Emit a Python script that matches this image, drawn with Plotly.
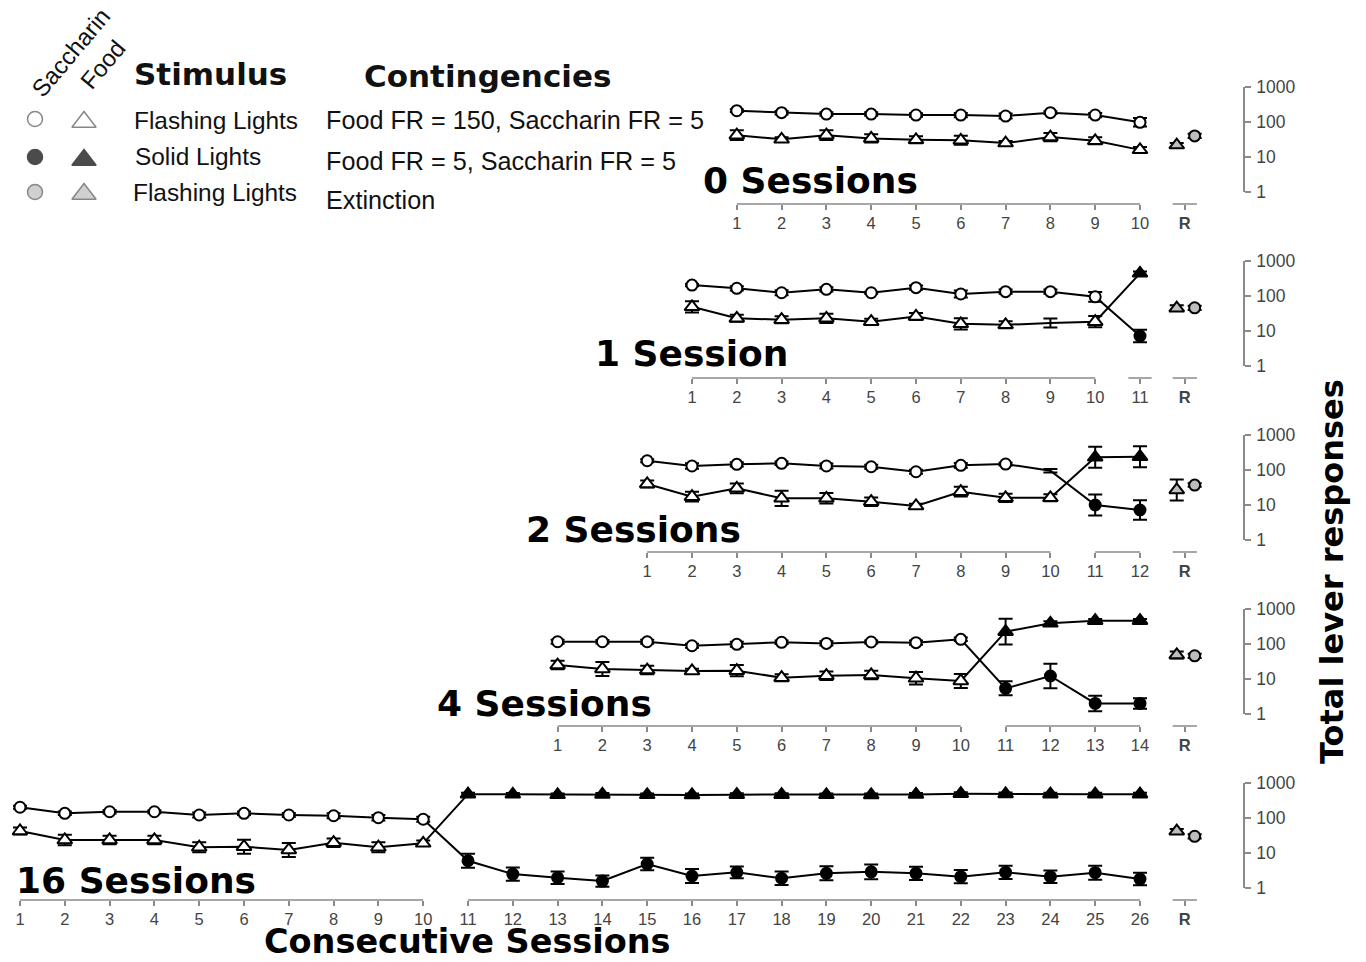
import plotly.graph_objects as go

W, H = 1366, 962

# ---------------------------------------------------------------- data ----
panel_titles = ["0 Sessions", "1 Session", "2 Sessions", "4 Sessions", "16 Sessions"]

# Mean total lever responses per session (sessions 1..n).
# Sessions 1-10: flashing lights (open symbols); later sessions: solid lights (filled).
sac_0 = [210, 185, 168, 168, 158, 158, 148, 185, 158, 98]
food_0 = [42, 32, 42, 34, 31, 30, 25, 37, 29, 16]
sac_1 = [205, 166, 124, 155, 124, 173, 114, 133, 133, 95, 7.2]
food_1 = [49, 23, 21, 23, 18.5, 26, 16, 15, 17, 18.5, 445]
sac_2 = [184, 130, 145, 155, 130, 124, 89, 136, 148, 95, 10, 7.2]
food_2 = [40, 17.3, 30, 15.5, 15.5, 12.4, 9.4, 24, 16, 16, 230, 240]
sac_4 = [116, 116, 116, 89, 98, 112, 104, 114, 109, 136, 5.4, 12.2, 2.0, 2.0]
food_4 = [25, 19.4, 18, 17, 17.3, 10.9, 12.4, 13, 10.5, 8.8, 225, 390, 465, 465]
sac_16 = [203, 136, 151, 151, 122, 136, 122, 116, 102, 92,
          6.0, 2.5, 1.97, 1.58, 4.85, 2.2, 2.8, 1.9, 2.63, 2.9, 2.63, 2.1, 2.8, 2.1, 2.74, 1.8]
food_16 = [42.5, 23.5, 23.5, 23.5, 14.6, 15.2, 12.2, 19.7, 14.6, 18.9,
           480, 475, 460, 470, 460, 455, 465, 465, 460, 455, 470, 495, 485, 480, 480, 480]

# Standard errors, in log10 units
sac_0_se = [0.04, 0.05, 0.05, 0.05, 0.05, 0.06, 0.07, 0.04, 0.06, 0.12]
food_0_se = [0.14, 0.06, 0.14, 0.12, 0.10, 0.13, 0.06, 0.12, 0.10, 0.08]
sac_1_se = [0.03, 0.06, 0.07, 0.06, 0.03, 0.06, 0.10, 0.06, 0.06, 0.14, 0.18]
food_1_se = [0.16, 0.10, 0.10, 0.13, 0.08, 0.10, 0.16, 0.10, 0.13, 0.16, 0.05]
sac_2_se = [0.04, 0.08, 0.06, 0.05, 0.07, 0.06, 0.06, 0.07, 0.04, 0.05, 0.30, 0.28]
food_2_se = [0.10, 0.14, 0.14, 0.22, 0.15, 0.12, 0.06, 0.14, 0.12, 0.10, 0.30, 0.30]
sac_4_se = [0.06, 0.05, 0.06, 0.06, 0.07, 0.05, 0.06, 0.04, 0.06, 0.05, 0.20, 0.35, 0.22, 0.15]
food_4_se = [0.12, 0.20, 0.12, 0.06, 0.16, 0.10, 0.12, 0.12, 0.18, 0.20, 0.37, 0.06, 0.05, 0.05]
sac_16_se = [0.04, 0.05, 0.05, 0.04, 0.07, 0.05, 0.06, 0.07, 0.08, 0.07,
             0.20, 0.19, 0.18, 0.16, 0.18, 0.20, 0.17, 0.19, 0.20, 0.21, 0.19, 0.19, 0.19, 0.18, 0.20, 0.18]
food_16_se = [0.10, 0.15, 0.12, 0.12, 0.14, 0.20, 0.20, 0.12, 0.14, 0.08,
              0.04, 0.04, 0.04, 0.04, 0.04, 0.04, 0.04, 0.04, 0.04, 0.04, 0.04, 0.04, 0.04, 0.04, 0.04, 0.04]

# Reinstatement test (R), flashing lights
food_R = [22, 45, 27, 48.6, 42]
sac_R = [40, 46, 37, 46, 30]
food_R_se = [0.06, 0.08, 0.30, 0.10, 0.06]
sac_R_se = [0.06, 0.06, 0.05, 0.06, 0.06]

# Sessions whose symbol was not recorded (line and error bar only): (panel, series, session)
no_symbol = [(1, "food", 9), (2, "sac", 10)]

sac_series = [sac_0, sac_1, sac_2, sac_4, sac_16]
food_series = [food_0, food_1, food_2, food_4, food_16]
sac_se = [sac_0_se, sac_1_se, sac_2_se, sac_4_se, sac_16_se]
food_se = [food_0_se, food_1_se, food_2_se, food_4_se, food_16_se]

y_ticks = [1, 10, 100, 1000]

# ------------------------------------------------------------- geometry ----
LAST = 26          # session slot of the final session in every panel
R_SLOT = 27        # slot of the reinstatement test
X0_PX, STEP_PX = 20, 44.8
YAX_PX = 1243      # pixel column of the shared right-hand y axes
ONE_PX = [192, 366, 540, 714, 888]   # pixel row of the value 1 in each panel
DECADE_PX = 35

def px(x):
    return x / W

def py(y):
    return 1 - y / H

x_range = [1 - X0_PX / STEP_PX, 1 + (YAX_PX - X0_PX) / STEP_PX]

BLACK = "#000000"
GREY_FILL = "#bdbdbd"
AXIS_GREY = "#8a8a8a"
BOLD = "DejaVu Sans, Verdana, sans-serif"
REG = "Liberation Sans, Arial, sans-serif"
TICK_FONT = dict(family=REG, size=16.5, color="#444444")

fig = go.Figure()
layout = dict(
    width=W, height=H, margin=dict(l=0, r=0, t=0, b=0, pad=0, autoexpand=False),
    paper_bgcolor="white", plot_bgcolor="rgba(0,0,0,0)", showlegend=False,
)
shapes = []
annotations = []


def err_arrays(vals, se):
    up = [v * (10 ** e - 1) for v, e in zip(vals, se)]
    dn = [v * (1 - 10 ** -e) for v, e in zip(vals, se)]
    return up, dn


def add_series(vals, se, slots, symbol, size, fills, opac, xa, ya, line=True):
    up, dn = err_arrays(vals, se)
    fig.add_trace(go.Scatter(
        x=slots, y=vals, xaxis=xa, yaxis=ya,
        mode="lines+markers" if line else "markers",
        line=dict(color=BLACK, width=2),
        marker=dict(symbol=symbol, size=size, color=fills, opacity=opac,
                    line=dict(color=BLACK, width=2)),
        error_y=dict(type="data", symmetric=False, array=up, arrayminus=dn,
                     color=BLACK, thickness=2, width=7),
        cliponaxis=False, hoverinfo="skip",
    ))


for i, title in enumerate(panel_titles):
    k = i + 1
    xa, ya = ("x" if k == 1 else f"x{k}"), ("y" if k == 1 else f"y{k}")
    xkey, ykey = ("xaxis" if k == 1 else f"xaxis{k}"), ("yaxis" if k == 1 else f"yaxis{k}")

    sac, food = sac_series[i], food_series[i]
    n = len(sac)
    sessions = list(range(1, n + 1))
    slots = [s + (LAST - n) for s in sessions]
    fills = ["white" if s <= 10 else BLACK for s in sessions]

    sac_op = [0 if (i, "sac", s) in no_symbol else 1 for s in sessions]
    food_op = [0 if (i, "food", s) in no_symbol else 1 for s in sessions]

    add_series(sac, sac_se[i], slots, "circle", 11, fills, sac_op, xa, ya)
    add_series(food, food_se[i], slots, "triangle-up", 13, fills, food_op, xa, ya)
    add_series([food_R[i]], [food_R_se[i]], [R_SLOT - 0.18], "triangle-up", 13,
               [GREY_FILL], [1], xa, ya, line=False)
    add_series([sac_R[i]], [sac_R_se[i]], [R_SLOT + 0.22], "circle", 11,
               [GREY_FILL], [1], xa, ya, line=False)

    one = ONE_PX[i]
    axis_y = py(one + 12)
    layout[ykey] = dict(
        type="log", range=[0, 3], domain=[py(one), py(one - 3 * DECADE_PX)],
        anchor=xa, side="right", showgrid=False, zeroline=False,
        showline=True, linecolor=AXIS_GREY, linewidth=1.5,
        ticks="outside", ticklen=6, tickwidth=1.5, tickcolor=AXIS_GREY,
        tickvals=y_ticks, ticktext=[str(t) for t in y_ticks],
        tickfont=dict(family=REG, size=17.5, color="#444444"),
        ticklabelstandoff=2,
    )
    layout[xkey] = dict(
        range=x_range, domain=[0, px(YAX_PX)], anchor="free", position=axis_y,
        showgrid=False, zeroline=False, showline=False,
        ticks="outside", ticklen=5, tickwidth=1.5, tickcolor=AXIS_GREY,
        tickvals=slots + [R_SLOT],
        ticktext=[str(s) for s in sessions] + ["<b>R</b>"],
        tickfont=TICK_FONT, ticklabelstandoff=-1,
    )

    # broken session axis: flashing block, solid block, test
    segs = [(slots[0], slots[min(9, n - 1)])]
    if n > 10:
        if n == 11:
            segs.append((slots[10] - 0.26, slots[10] + 0.26))
        else:
            segs.append((slots[10], slots[-1]))
    segs.append((R_SLOT - 0.27, R_SLOT + 0.27))
    for a, b in segs:
        shapes.append(dict(type="line", xref=xa, yref="paper", x0=a, x1=b,
                           y0=axis_y, y1=axis_y,
                           line=dict(color=AXIS_GREY, width=1.5)))

# panel titles
title_pos = [(701, 180), (593, 354), (524, 529), (435, 703), (14, 880)]
for title, (tx, ty) in zip(panel_titles, title_pos):
    annotations.append(dict(text=title, x=px(tx), y=py(ty), xref="paper", yref="paper",
                            xanchor="left", yanchor="middle", showarrow=False,
                            font=dict(family=BOLD, size=36, color=BLACK, weight="bold")))

annotations.append(dict(text="Consecutive Sessions", x=px(467), y=0, xref="paper",
                        yref="paper", xanchor="center", yanchor="bottom", showarrow=False,
                        borderpad=0,
                        font=dict(family=BOLD, size=33.5, color=BLACK, weight="bold")))
annotations.append(dict(text="Total lever responses", x=px(1332), y=py(572), xref="paper",
                        yref="paper", xanchor="center", yanchor="middle", showarrow=False,
                        textangle=-90,
                        font=dict(family=BOLD, size=32, color=BLACK, weight="bold")))

# key
key_text = [
    ("Stimulus", 132, 74, BOLD, 31, "bold"),
    ("Contingencies", 362, 76, BOLD, 31, "bold"),
    ("Flashing Lights", 132, 120, REG, 24.4, "normal"),
    ("Solid Lights", 133, 156, REG, 24.4, "normal"),
    ("Flashing Lights", 131, 192, REG, 24.4, "normal"),
    ("Food FR = 150, Saccharin FR = 5", 324, 120, REG, 25.2, "normal"),
    ("Food FR = 5, Saccharin FR = 5", 324, 161, REG, 25.2, "normal"),
    ("Extinction", 324, 200, REG, 25.2, "normal"),
]
for txt, tx, ty, fam, size, wt in key_text:
    annotations.append(dict(text=txt, x=px(tx), y=py(ty), xref="paper", yref="paper",
                            xanchor="left", yanchor="middle", showarrow=False,
                            font=dict(family=fam, size=size, color="#111111", weight=wt)))
for txt, tx, ty in [("Saccharin", 71, 53), ("Food", 103, 65)]:
    annotations.append(dict(text=txt, x=px(tx), y=py(ty), xref="paper", yref="paper",
                            xanchor="center", yanchor="middle", showarrow=False,
                            textangle=-50,
                            font=dict(family=REG, size=24, color="#111111")))

# key symbols drawn on a pixel-space overlay
key_x = [35, 84, 35, 84, 35, 84]
key_y = [119, 122, 157, 160, 192, 194]
key_sym = ["circle", "triangle-up", "circle", "triangle-up", "circle", "triangle-up"]
key_size = [15, 21, 15, 21, 15, 21]
key_fill = ["white", "white", BLACK, BLACK, GREY_FILL, GREY_FILL]
key_line = ["#555555", "#555555", BLACK, BLACK, "#555555", "#555555"]
fig.add_trace(go.Scatter(
    x=key_x, y=key_y, xaxis="x6", yaxis="y6", mode="markers",
    marker=dict(symbol=key_sym, size=key_size, color=key_fill,
                line=dict(color=key_line, width=1.5)),
    cliponaxis=False, hoverinfo="skip",
))
layout["xaxis6"] = dict(range=[0, W], domain=[0, 1], anchor="y6", visible=False)
layout["yaxis6"] = dict(range=[H, 0], domain=[0, 1], anchor="x6", visible=False)

layout["shapes"] = shapes
layout["annotations"] = annotations
fig.update_layout(**layout)
fig.write_html("out.html")
